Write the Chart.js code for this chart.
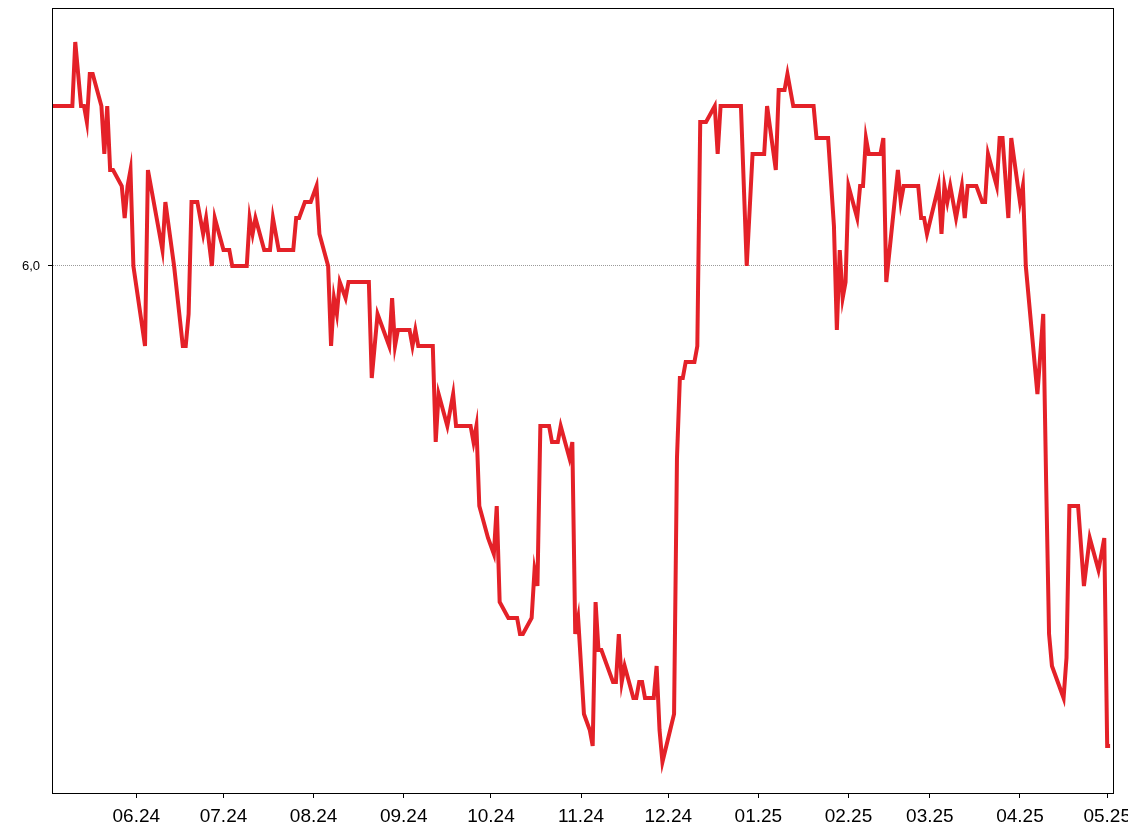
<!DOCTYPE html>
<html>
<head>
<meta charset="utf-8">
<script src="https://cdn.jsdelivr.net/npm/chart.js@4.4.1/dist/chart.umd.min.js"></script>
<style>
    body { margin: 0; background: #ffffff; }
    #wrap { width: 1128px; height: 836px; }
</style>
</head>
<body>
<div id="wrap"><canvas id="RateChart"></canvas></div>
<script>
// days counted from 01.06.2024
var days = [-29, -22, -21, -19, -18, -17, -16, -15, -12, -11, -10, -9, -8, -5, -4, -3, -2, -1, 3, 4,
    9, 10, 13, 16, 17, 18, 19, 21, 23, 24, 26, 27, 30, 32, 33, 38, 39, 40, 41, 44,
    46, 47, 49, 54, 55, 56, 58, 60, 62, 63, 66, 67, 68, 69, 70, 72, 73, 80, 81, 82,
    83, 87, 88, 89, 90, 94, 95, 96, 97, 102, 103, 104, 107, 109, 110, 115, 116, 117, 118, 121,
    123, 124, 125, 128, 131, 132, 133, 136, 137, 138, 139, 142, 143, 145, 146, 149, 150, 151, 152, 154,
    156, 157, 158, 159, 160, 164, 165, 166, 167, 168, 171, 172, 173, 174, 175, 178, 179, 180, 181, 185,
    186, 187, 188, 189, 192, 193, 194, 196, 199, 200, 201, 208, 210, 212, 216, 217, 220, 221, 223, 224,
    226, 233, 234, 238, 240, 241, 242, 243, 244, 245, 248, 249, 250, 251, 252, 256, 257, 258, 262, 263,
    264, 269, 270, 271, 272, 276, 277, 278, 279, 280, 282, 284, 285, 286, 289, 291, 292, 293, 296, 297,
    298, 300, 301, 304, 305, 306, 310, 312, 313, 314, 315, 317, 319, 320, 321, 324, 326, 328, 331, 333,
    334, 335];

var rates = [7.0, 7.0, 7.4, 7.0, 7.0, 6.9, 7.2, 7.2, 7.0, 6.7, 7.0, 6.6, 6.6, 6.5, 6.3, 6.5, 6.6, 6.0, 5.5, 6.6,
    6.1, 6.4, 6.0, 5.5, 5.5, 5.7, 6.4, 6.4, 6.2, 6.3, 6.0, 6.3, 6.1, 6.1, 6.0, 6.0, 6.3, 6.2, 6.3, 6.1,
    6.1, 6.3, 6.1, 6.1, 6.3, 6.3, 6.4, 6.4, 6.5, 6.2, 6.0, 5.5, 5.8, 5.7, 5.9, 5.8, 5.9, 5.9, 5.3, 5.5,
    5.7, 5.5, 5.8, 5.5, 5.6, 5.6, 5.5, 5.6, 5.5, 5.5, 4.9, 5.2, 5.0, 5.2, 5.0, 5.0, 4.9, 5.0, 4.5, 4.3,
    4.2, 4.5, 3.9, 3.8, 3.8, 3.7, 3.7, 3.8, 4.1, 4.0, 5.0, 5.0, 4.9, 4.9, 5.0, 4.8, 4.9, 3.7, 3.8, 3.2,
    3.1, 3.0, 3.9, 3.6, 3.6, 3.4, 3.4, 3.7, 3.4, 3.5, 3.3, 3.3, 3.4, 3.4, 3.3, 3.3, 3.5, 3.1, 2.9, 3.2,
    4.8, 5.3, 5.3, 5.4, 5.4, 5.5, 6.9, 6.9, 7.0, 6.7, 7.0, 7.0, 6.0, 6.7, 6.7, 7.0, 6.6, 7.1, 7.1, 7.2,
    7.0, 7.0, 6.8, 6.8, 6.25, 5.6, 6.1, 5.8, 5.9, 6.5, 6.3, 6.5, 6.5, 6.8, 6.7, 6.7, 6.8, 5.9, 6.6, 6.4,
    6.5, 6.5, 6.3, 6.3, 6.2, 6.5, 6.2, 6.5, 6.4, 6.5, 6.3, 6.5, 6.3, 6.5, 6.5, 6.4, 6.4, 6.7, 6.5, 6.8,
    6.8, 6.3, 6.8, 6.4, 6.5, 6.0, 5.2, 5.7, 4.65, 3.7, 3.5, 3.4, 3.3, 3.55, 4.5, 4.5, 4.0, 4.3, 4.1, 4.3,
    3.0, 3.0];

var monthDays = [0, 30, 61, 92, 122, 153, 183, 214, 245, 273, 304, 334];
var monthLabels = ['06.24', '07.24', '08.24', '09.24', '10.24', '11.24', '12.24', '01.25', '02.25', '03.25', '04.25', '05.25'];

var yTicks = [6.0];
var yTickLabels = ['6,0'];

var points = [];
for (var i = 0; i < days.length; i++) {
    points.push({ x: days[i], y: rates[i] });
}

// black frame round the plot area
var framePlugin = {
    id: 'frame',
    afterDraw: function (chart) {
        var a = chart.chartArea;
        var ctx = chart.ctx;
        ctx.save();
        ctx.strokeStyle = '#000000';
        ctx.lineWidth = 1;
        ctx.strokeRect(Math.round(a.left) + 0.5, Math.round(a.top) + 0.5,
            Math.round(a.right - a.left), Math.round(a.bottom - a.top));
        ctx.restore();
    }
};

// keep the tick labels from pushing the plot area in
function noLabelPadding(scale) {
    scale.paddingLeft = 0;
    scale.paddingRight = 0;
    scale.paddingTop = 0;
    scale.paddingBottom = 0;
}

var RateChart = new Chart(document.getElementById('RateChart'), {
    type: 'line',
    data: {
        datasets: [{
            data: points,
            borderColor: '#e42128',
            borderWidth: 4,
            pointRadius: 0,
            tension: 0,
            fill: false
        }]
    },
    options: {
        responsive: true,
        maintainAspectRatio: false,
        animation: false,
        events: [],
        layout: { padding: { left: 0, right: 15, top: 8, bottom: 0 } },
        plugins: {
            legend: { display: false },
            tooltip: { enabled: false }
        },
        scales: {
            x: {
                type: 'linear',
                min: -29,
                max: 336,
                afterBuildTicks: function (scale) {
                    scale.ticks = monthDays.map(function (d) { return { value: d }; });
                },
                afterFit: function (scale) {
                    scale.height = 43;
                    noLabelPadding(scale);
                },
                grid: {
                    drawOnChartArea: false,
                    drawTicks: true,
                    tickLength: 5,
                    tickColor: '#000000'
                },
                border: { display: true, color: '#000000', width: 1 },
                ticks: {
                    autoSkip: false,
                    maxRotation: 0,
                    padding: 7,
                    color: '#000000',
                    font: { family: 'Liberation Sans, Arial, sans-serif', size: 19 },
                    callback: function (value, index) { return monthLabels[index]; }
                }
            },
            y: {
                min: 2.70625,
                max: 7.6125,
                afterBuildTicks: function (scale) {
                    scale.ticks = yTicks.map(function (v) { return { value: v }; });
                },
                afterFit: function (scale) {
                    scale.width = 52;
                    noLabelPadding(scale);
                },
                grid: {
                    color: '#9a9a9a',
                    lineWidth: 1,
                    tickLength: 4,
                    tickColor: '#000000',
                    tickBorderDash: []
                },
                border: { display: true, color: '#000000', width: 1, dash: [1, 1] },
                ticks: {
                    padding: 8,
                    color: '#000000',
                    font: { family: 'Liberation Sans, Arial, sans-serif', size: 13 },
                    callback: function (value, index) { return yTickLabels[index]; }
                }
            }
        }
    },
    plugins: [framePlugin]
});
</script>
</body>
</html>
